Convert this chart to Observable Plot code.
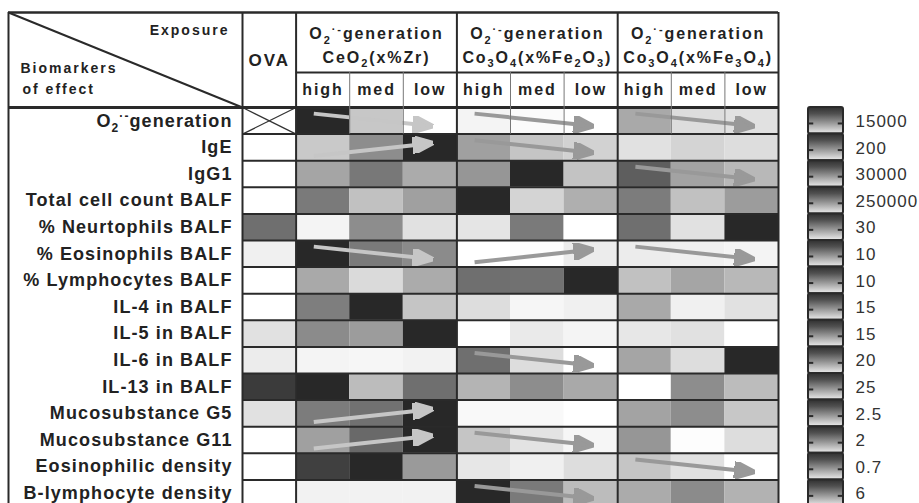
<!DOCTYPE html>
<html>
<head>
<meta charset="utf-8">
<script src="https://cdn.jsdelivr.net/npm/d3@7"></script>
<script src="https://cdn.jsdelivr.net/npm/@observablehq/plot@0.6"></script>
<style>
  html, body { margin: 0; padding: 0; background: #fff; }
  #chart { width: 919px; height: 503px; overflow: hidden; }
  #chart svg g[font-size="18"] text { letter-spacing: 1.1px; }
  #chart svg g[font-size="16"] text { letter-spacing: 1.9px; }
  #chart svg g[font-size="14"] text { letter-spacing: 2px; }
  #chart svg g[font-size="17"][font-weight="bold"] text { letter-spacing: 2px; }
  #chart svg g[font-size="17"]:not([font-weight]) text { letter-spacing: 1px; }
</style>
</head>
<body>
<div id="chart"></div>
<script>
// ---------- data ----------
const biomarkers = [
  "O₂˙⁻generation", "IgE", "IgG1", "Total cell count BALF", "% Neurtophils BALF",
  "% Eosinophils BALF", "% Lymphocytes BALF", "IL-4 in BALF", "IL-5 in BALF",
  "IL-6 in BALF", "IL-13 in BALF", "Mucosubstance G5", "Mucosubstance G11",
  "Eosinophilic density", "B-lymphocyte density"
];
const groupTitles = ["O₂˙⁻generation", "O₂˙⁻generation", "O₂˙⁻generation"];
const groupMaterials = ["CeO₂(x%Zr)", "Co₃O₄(x%Fe₂O₃)", "Co₃O₄(x%Fe₃O₄)"];
const doseLevels = ["high", "med", "low"];

// relative response (0 = white, 1 = darkest); null = not measured (crossed cell)
const ova = [null, 0, 0, 0, 0.67, 0.07, 0, 0, 0.14, 0.09, 0.91, 0.14, 0, 0, 0];
const ceo2 = [
  [1, 0.26, 0], [0.25, 0.53, 1], [0.42, 0.63, 0.39], [0.62, 0.29, 0.44], [0.05, 0.53, 0.14],
  [1, 0.62, 0.54], [0.40, 0.17, 0.39], [0.60, 1, 0.27], [0.54, 0.46, 1], [0.05, 0.04, 0.06],
  [1, 0.31, 0.67], [0.61, 0.66, 1], [0.44, 0.70, 1], [0.89, 1, 0.47], [0.06, 0.06, 0.06]
];
const co3o4Fe2o3 = [
  [0.05, 0.02, 0], [0.44, 0.27, 0.21], [0.49, 1, 0.28], [1, 0.20, 0.37], [0.12, 0.62, 0],
  [0, 0.01, 0.09], [0.67, 0.66, 1], [0.16, 0.04, 0.07], [0, 0.10, 0.05], [0.67, 0.16, 0],
  [0.35, 0.53, 0.40], [0.03, 0.03, 0], [0.27, 0.13, 0.04], [0.11, 0.07, 0.16], [1, 0.62, 0.31]
];
const co3o4Fe3o4 = [
  [0.40, 0.16, 0.14], [0.14, 0.20, 0.16], [0.75, 0.43, 0.33], [0.61, 0.29, 0.46], [0.67, 0.14, 1],
  [0.09, 0.07, 0.05], [0.29, 0.42, 0.33], [0.40, 0.07, 0.14], [0.11, 0.14, 0], [0.42, 0.16, 1],
  [0, 0.53, 0.31], [0.43, 0.53, 0.26], [0.49, 0.01, 0.16], [0.27, 0.14, 0], [0.39, 0.54, 0.36]
];

// trend arrows: exposure group index, biomarker row index, direction
const arrowGroup = [0, 0, 0, 0, 0, 1, 1, 1, 1, 1, 1, 2, 2, 2, 2];
const arrowRow   = [0, 1, 5, 11, 12, 0, 1, 5, 9, 12, 14, 0, 2, 5, 13];
const arrowTrend = ["down", "up", "down", "up", "up",
                    "down", "down", "up", "down", "down", "down",
                    "down", "down", "down", "down"];

// colour-bar maxima per biomarker
const scaleMaxima = ["15000", "200", "30000", "250000", "30", "10", "10", "15", "15",
                     "20", "25", "2.5", "2", "0.7", "6"];

// ---------- build tables ----------
const groups = [ceo2, co3o4Fe2o3, co3o4Fe3o4];
const cells = [];
biomarkers.forEach((b, r) => {
  cells.push({col: 0, row: r, v: ova[r]});
  groups.forEach((grp, g) => grp[r].forEach((v, l) => cells.push({col: 1 + 3 * g + l, row: r, v})));
});
const crossed = cells.filter(d => d.v == null);
const arrows = arrowGroup.map((g, i) => ({g, row: arrowRow[i], up: arrowTrend[i] === "up"}));
const levelCells = groups.flatMap((grp, g) => doseLevels.map((lv, l) => ({col: 1 + 3 * g + l, lv})));

function arrowHead(color) {
  const m = d3.create("svg:marker")
    .attr("viewBox", "0 -8.5 21 17")
    .attr("markerWidth", 21).attr("markerHeight", 17)
    .attr("markerUnits", "userSpaceOnUse")
    .attr("refX", 15).attr("refY", 0)
    .attr("orient", "auto");
  m.append("path").attr("d", "M0,-8.5L21,0L0,8.5Z").attr("fill", color);
  return m.node();
}
const arrowLink = (data, color) => Plot.link(data, {
  x1: d => 1 + 3 * d.g + 0.33,
  x2: d => 1 + 3 * d.g + 2.45,
  y1: d => d.row + (d.up ? 0.82 : 0.23),
  y2: d => d.row + (d.up ? 0.36 : 0.68),
  stroke: color, strokeWidth: 4, markerEnd: arrowHead
});

const LINE = "#2a2a2a";
const svg = Plot.plot({
  width: 919, height: 503, margin: 0,
  style: {fontFamily: "'Liberation Sans', Arial, Helvetica, sans-serif", fontSize: "17px", color: "#222", background: "#fff"},
  x: {type: "linear", domain: [-1, 0, 10, 11, 12], range: [8, 242, 778, 808, 843], axis: null},
  y: {type: "linear", domain: [-2, -1, 0, 15], range: [12, 72, 107, 506], axis: null},
  color: {type: "linear", domain: [0, 1], range: ["#ffffff", "#282828"], interpolate: "rgb"},
  marks: [
    // heat cells
    Plot.rect(cells, {x1: "col", x2: d => d.col + 1, y1: "row", y2: d => d.row + 1, fill: d => d.v ?? 0}),
    // crossed (not measured) cell
    Plot.link(crossed, {x1: "col", y1: "row", x2: d => d.col + 1, y2: d => d.row + 1, stroke: "#333", strokeWidth: 1.3}),
    Plot.link(crossed, {x1: "col", y1: d => d.row + 1, x2: d => d.col + 1, y2: "row", stroke: "#333", strokeWidth: 1.3}),
    // trend arrows
    arrowLink(arrows.filter(d => d.g === 0), "#c6c6c6"),
    arrowLink(arrows.filter(d => d.g !== 0), "#999999"),
    // table lines
    Plot.ruleY(d3.range(1, 15), {x1: 0, x2: 10, stroke: LINE, strokeWidth: 2}),
    Plot.ruleY([-2], {x1: -1, x2: 10, stroke: LINE, strokeWidth: 2.5}),
    Plot.ruleY([0], {x1: -1, x2: 10, stroke: LINE, strokeWidth: 3}),
    Plot.ruleY([-1], {x1: 1, x2: 10, stroke: LINE, strokeWidth: 2}),
    Plot.ruleX([-1, 0, 1, 4, 7, 10], {y1: -2, y2: 15, stroke: LINE, strokeWidth: 2}),
    Plot.ruleX(levelCells.filter(d => d.col % 3 !== 1), {x: "col", y1: -1, y2: 1, stroke: "#777", strokeWidth: 1}),
    Plot.link([0], {x1: -1, y1: -2, x2: 0, y2: 0, stroke: LINE, strokeWidth: 2}),
    // colour bar
    Plot.rect(scaleMaxima, {x1: 11, x2: 12, y1: (d, i) => i, y2: (d, i) => i + 1, fill: "url(#cbGrad)", stroke: LINE, strokeWidth: 2, rx: 2}),
    Plot.ruleY(scaleMaxima, {y: (d, i) => i + 0.6, x1: 11, x2: 11.15, stroke: LINE, strokeWidth: 2}),
    Plot.ruleY(scaleMaxima, {y: (d, i) => i + 0.6, x1: 11.85, x2: 12, stroke: LINE, strokeWidth: 2}),
    Plot.text(scaleMaxima, {x: 12, y: (d, i) => i + 0.53, dx: 12, textAnchor: "start", fontSize: 17, fill: "#333"}),
    // header texts
    Plot.text(["Exposure"], {x: 0, y: -1.7, dx: -13, textAnchor: "end", fontWeight: "bold", fontSize: 14}),
    Plot.text(["Biomarkers"], {x: -1, y: -1.06, dx: 12, textAnchor: "start", fontWeight: "bold", fontSize: 14}),
    Plot.text(["of effect"], {x: -1, y: -0.5, dx: 14, textAnchor: "start", fontWeight: "bold", fontSize: 14}),
    Plot.text(["OVA"], {x: 0.5, y: -1.2, fontWeight: "bold", fontSize: 17}),
    Plot.text(groupTitles, {x: (d, i) => 2.5 + 3 * i, y: -1.64, fontWeight: "bold", fontSize: 16}),
    Plot.text(groupMaterials, {x: (d, i) => 2.5 + 3 * i, y: -1.25, fontWeight: "bold", fontSize: 16}),
    Plot.text(levelCells, {x: d => d.col + 0.5, y: -0.5, text: "lv", fontWeight: "bold", fontSize: 16}),
    // row labels
    Plot.text(biomarkers, {x: 0, y: (d, i) => i + 0.5, dx: -10, textAnchor: "end", fontWeight: "bold", fontSize: 18})
  ]
});

// gradient used by the colour-bar blocks
const defs = d3.select(svg).insert("defs", ":first-child");
const grad = defs.append("linearGradient").attr("id", "cbGrad")
  .attr("x1", 0).attr("y1", 0).attr("x2", 0).attr("y2", 1);
[["0%", "#303030"], ["25%", "#505050"], ["60%", "#989898"], ["100%", "#ececec"]]
  .forEach(([o, c]) => grad.append("stop").attr("offset", o).attr("stop-color", c));

// typeset sub-/superscripts (chemical formulae, superoxide) as shifted tspans
const SUB = {"₀": "0", "₁": "1", "₂": "2", "₃": "3", "₄": "4", "₅": "5"};
const SUP = {"˙": "·", "⁻": "-"};
d3.select(svg).selectAll("text").each(function () {
  const s = this.textContent;
  if (!/[₀-₉˙⁻]/.test(s)) return;
  const fs = parseFloat(this.parentNode.getAttribute("font-size")) || 17;
  const runs = [];
  for (const ch of s) {
    const type = ch in SUB ? "sub" : ch in SUP ? "sup" : "n";
    const c = SUB[ch] ?? SUP[ch] ?? ch;
    if (runs.length && runs[runs.length - 1].type === type) runs[runs.length - 1].t += c;
    else runs.push({type, t: c});
  }
  this.textContent = "";
  let cur = 0;
  for (const r of runs) {
    const target = r.type === "sub" ? 0.28 * fs : r.type === "sup" ? -0.38 * fs : 0;
    const ts = d3.select(this).append("tspan").text(r.t).attr("dy", target - cur);
    if (r.type !== "n") ts.attr("font-size", Math.round(fs * 0.68));
    cur = target;
  }
});

document.getElementById("chart").appendChild(svg);
</script>
</body>
</html>
